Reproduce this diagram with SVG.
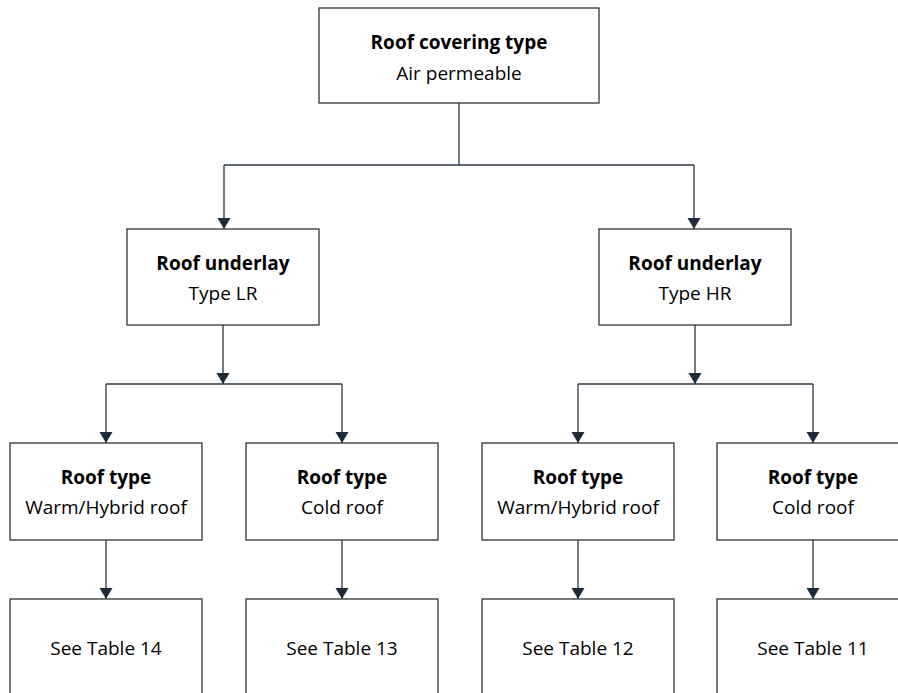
<svg xmlns="http://www.w3.org/2000/svg" width="898" height="693" viewBox="0 0 898 693">
<defs>
<style>
.box{fill:#fff;stroke:#333;stroke-width:1.3}
.t{font-family:"Open Sans","Noto Sans",sans-serif;font-size:19px;font-weight:500;fill:#000;text-anchor:middle}
.b{font-weight:700}
.c{fill:none;stroke:#2a3646;stroke-width:1.3}
</style>
<marker id="ah" markerUnits="userSpaceOnUse" markerWidth="12" markerHeight="14" refX="11" refY="6.5" orient="auto" viewBox="0 0 12 13">
<path d="M0,0 L11,6.5 L0,13 Z" fill="#1e2b3a"/>
</marker>
</defs>
<rect width="898" height="693" fill="#fff"/>
<g id="connectors">
<path class="c" d="M459,103 V165"/>
<path class="c" d="M224,165 H694"/>
<path class="c" d="M224,165 V229" marker-end="url(#ah)"/>
<path class="c" d="M694,165 V229" marker-end="url(#ah)"/>
<path class="c" d="M223,325 V384" marker-end="url(#ah)"/>
<path class="c" d="M695,325 V384" marker-end="url(#ah)"/>
<path class="c" d="M106,384 H342"/>
<path class="c" d="M578,384 H813"/>
<path class="c" d="M106,384 V443" marker-end="url(#ah)"/>
<path class="c" d="M342,384 V443" marker-end="url(#ah)"/>
<path class="c" d="M578,384 V443" marker-end="url(#ah)"/>
<path class="c" d="M813,384 V443" marker-end="url(#ah)"/>
<path class="c" d="M106,540 V599" marker-end="url(#ah)"/>
<path class="c" d="M342,540 V599" marker-end="url(#ah)"/>
<path class="c" d="M578,540 V599" marker-end="url(#ah)"/>
<path class="c" d="M813,540 V599" marker-end="url(#ah)"/>
</g>
<g id="n_top">
<rect class="box" x="319" y="8" width="280" height="95"/>
<text class="t b" x="459" y="49">Roof covering type</text>
<text class="t" x="459" y="80">Air permeable</text>
</g>
<g id="n_lr">
<rect class="box" x="127" y="229" width="192" height="96"/>
<text class="t b" x="223" y="270">Roof underlay</text>
<text class="t" x="223" y="300">Type LR</text>
</g>
<g id="n_hr">
<rect class="box" x="599" y="229" width="192" height="96"/>
<text class="t b" x="695" y="270">Roof underlay</text>
<text class="t" x="695" y="300">Type HR</text>
</g>
<g id="n_lr_warm">
<rect class="box" x="10" y="443" width="192" height="97"/>
<text class="t b" x="106" y="484">Roof type</text>
<text class="t" x="106" y="514">Warm/Hybrid roof</text>
</g>
<g id="n_lr_cold">
<rect class="box" x="246" y="443" width="192" height="97"/>
<text class="t b" x="342" y="484">Roof type</text>
<text class="t" x="342" y="514">Cold roof</text>
</g>
<g id="n_hr_warm">
<rect class="box" x="482" y="443" width="192" height="97"/>
<text class="t b" x="578" y="484">Roof type</text>
<text class="t" x="578" y="514">Warm/Hybrid roof</text>
</g>
<g id="n_hr_cold">
<rect class="box" x="717" y="443" width="192" height="97"/>
<text class="t b" x="813" y="484">Roof type</text>
<text class="t" x="813" y="514">Cold roof</text>
</g>
<g id="n_t14">
<rect class="box" x="10" y="599" width="192" height="97"/>
<text class="t" x="106" y="655">See Table 14</text>
</g>
<g id="n_t13">
<rect class="box" x="246" y="599" width="192" height="97"/>
<text class="t" x="342" y="655">See Table 13</text>
</g>
<g id="n_t12">
<rect class="box" x="482" y="599" width="192" height="97"/>
<text class="t" x="578" y="655">See Table 12</text>
</g>
<g id="n_t11">
<rect class="box" x="717" y="599" width="192" height="97"/>
<text class="t" x="813" y="655">See Table 11</text>
</g>
</svg>
